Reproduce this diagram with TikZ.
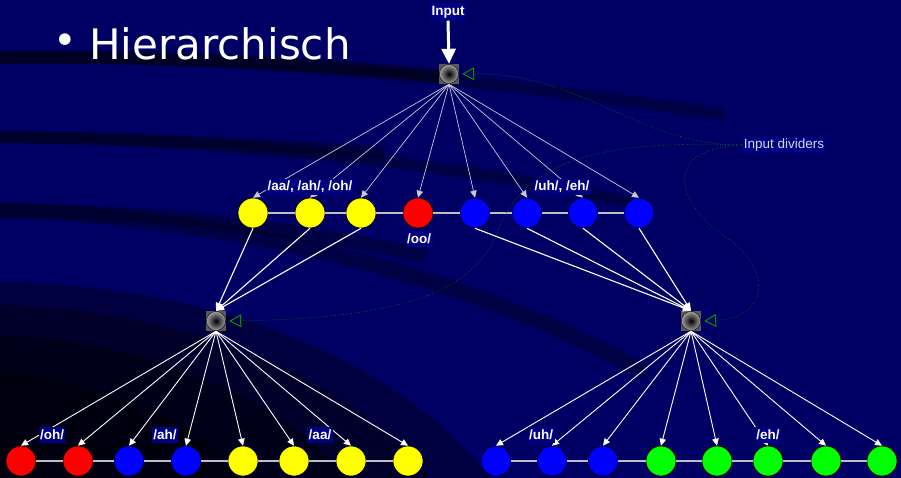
\documentclass[tikz,border=0pt]{standalone}
\usepackage{fontspec}
\setmainfont{Liberation Sans}
\newfontfamily\dejavu{DejaVu Sans}
\usetikzlibrary{arrows.meta}
\definecolor{bgblue}{RGB}{0,0,100}
\definecolor{lblblue}{RGB}{0,0,128}
\definecolor{nyellow}{RGB}{255,255,0}
\definecolor{nred}{RGB}{255,0,0}
\definecolor{nblue}{RGB}{0,0,255}
\definecolor{ngreen}{RGB}{0,255,0}
\definecolor{topline}{RGB}{200,200,215}
\definecolor{rowgray}{RGB}{190,190,200}
\definecolor{dgreen}{RGB}{0,110,20}
\definecolor{tgreen}{RGB}{0,150,0}
\definecolor{hubgray}{RGB}{90,90,90}
\definecolor{divtext}{RGB}{215,215,230}
\tikzset{
  pn/.style={circle, draw=black, line width=0.6pt, minimum size=30pt, inner sep=0pt},
  hub/.style={rectangle, fill=hubgray, minimum size=20pt, inner sep=0pt,
    path picture={\shade[inner color=black, outer color=gray!70] (path picture bounding box.center) circle (9.6pt);
                  \draw[black, line width=0.4pt] (path picture bounding box.center) circle (9.6pt);}},
  lbl/.style={fill=lblblue, text=white, font=\bfseries\fontsize{13.5}{15}\selectfont, inner xsep=1.5pt, inner ysep=2.5pt},
  divlbl/.style={fill=lblblue, text=divtext, font=\fontsize{13.5}{15}\selectfont, inner xsep=1.5pt, inner ysep=2pt},
  toparr/.style={draw=topline, line width=0.7pt, -{Triangle[length=7pt,width=6.5pt]}},
  midarr/.style={draw=white, line width=1.1pt, -{Triangle[length=8pt,width=7pt]}},
  botarr/.style={draw=white, line width=0.9pt, -{Triangle[length=7pt,width=6.5pt]}},
  rowline/.style={draw=rowgray, line width=1.3pt},
  divline/.style={draw=dgreen, line width=0.7pt, dotted, -{Triangle[open, length=12pt, width=13pt, line width=1pt, color=tgreen]}},
  band/.style={draw=black, line cap=round}
}
\begin{document}
\begin{tikzpicture}[x=1pt,y=-1pt]
\useasboundingbox (0,0) rectangle (901,478);
\fill[bgblue] (0,0) rectangle (901,478);
% background swooshes
\draw[band, opacity=0.3, line width=12pt] (-20,58) .. controls (200,54) and (450,74) .. (720,114);
\draw[band, opacity=0.45, line width=13pt] (-20,58) .. controls (150,55) and (300,62) .. (440,76);
\draw[band, opacity=0.3, line width=12pt] (-20,137) .. controls (200,138) and (450,160) .. (640,205);
\draw[band, opacity=0.35, line width=12pt] (-20,137) .. controls (150,137) and (250,145) .. (380,152);
\draw[band, opacity=0.3, line width=16pt] (-20,210) .. controls (200,212) and (450,265) .. (640,370);
\draw[band, opacity=0.3, line width=14pt] (-20,210) .. controls (150,211) and (280,225) .. (420,255);
\fill[black, opacity=0.35] (0,282) .. controls (200,285) and (390,350) .. (490,478) -- (0,478) -- cycle;
\fill[black, opacity=0.35] (0,305) .. controls (180,310) and (340,370) .. (430,478) -- (0,478) -- cycle;
\fill[black, opacity=0.35] (0,335) .. controls (150,340) and (280,400) .. (350,478) -- (0,478) -- cycle;
\fill[black, opacity=0.4] (0,370) .. controls (100,380) and (200,420) .. (250,478) -- (0,478) -- cycle;

% title
\node[text=white, font=\dejavu\fontsize{40}{40}\selectfont, anchor=center, inner sep=0pt] (bul) at (65,44) {•};
\node[text=white, font=\dejavu\fontsize{42}{42}\selectfont, anchor=base west, inner sep=0pt] (title) at (89,60) {Hierarchisch};

% hubs
\node[hub] (hubT) at (449,74) {};
\node[hub] (hubL) at (216,321) {};
\node[hub] (hubR) at (691,321) {};

% middle row
\foreach \x/\c [count=\i] in {253/nyellow,310/nyellow,361/nyellow,418/nred,475/nblue,527/nblue,583/nblue,639/nblue}
  \node[pn, fill=\c] (m\i) at (\x,213) {};
% bottom rows
\foreach \x/\c [count=\i] in {21/nred,78/nred,129/nblue,186/nblue,243/nyellow,294/nyellow,351/nyellow,408/nyellow}
  \node[pn, fill=\c] (l\i) at (\x,461) {};
\foreach \x/\c [count=\i] in {496/nblue,552/nblue,603/nblue,661/ngreen,717/ngreen,768/ngreen,826/ngreen,882/ngreen}
  \node[pn, fill=\c] (r\i) at (\x,461) {};

% row lines
\foreach \i [evaluate=\i as \j using int(\i+1)] in {1,...,7} {
  \draw[rowline] (m\i) -- (m\j);
  \draw[rowline] (l\i) -- (l\j);
  \draw[rowline] (r\i) -- (r\j);
}

% input dividers
\node[divlbl] (div) at (784,145) {Input dividers};
\coordinate (tT) at ([xshift=3pt]hubT.east);
\coordinate (tL) at ([xshift=3pt]hubL.east);
\coordinate (tR) at ([xshift=3pt]hubR.east);
\draw[divline] (div.west) .. controls (640,146) and (580,72) .. (tT);
\draw[divline] (div.west) .. controls (600,140) and (530,160) .. (500,225) .. controls (480,285) and (420,318) .. (tL);
\draw[divline] (div.west) .. controls (660,148) and (675,205) .. (730,240) .. controls (775,275) and (765,318) .. (tR);

% arrows top hub -> middle row
\foreach \i in {1,...,8}
  \draw[toparr] (hubT.south) -- (m\i.north);
% middle row -> hubs
\foreach \i in {1,2,3}
  \draw[midarr] (m\i.south) -- (hubL.north);
\foreach \i in {5,6,7,8}
  \draw[midarr] (m\i.south) -- (hubR.north);
% hubs -> bottom rows
\foreach \i in {1,...,8} {
  \draw[botarr] (hubL.south) -- (l\i.north);
  \draw[botarr] (hubR.south) -- (r\i.north);
}

% input
\node[lbl] (inp) at (448,12) {Input};
\draw[white, line width=3pt, -{Triangle[length=15pt,width=14pt]}] (inp.south) -- (hubT.north);

% labels
\node[lbl] (la) at (310,187) {/aa/, /ah/, /oh/};
\node[lbl] (lb) at (562,187) {/uh/, /eh/};
\node[lbl] (lc) at (419,239) {/oo/};
\node[lbl] (ld) at (52,435) {/oh/};
\node[lbl] (le) at (165,435) {/ah/};
\node[lbl] (lf) at (320,435) {/aa/};
\node[lbl] (lg) at (541,435) {/uh/};
\node[lbl] (lh) at (768,435) {/eh/};
\end{tikzpicture}
\end{document}
